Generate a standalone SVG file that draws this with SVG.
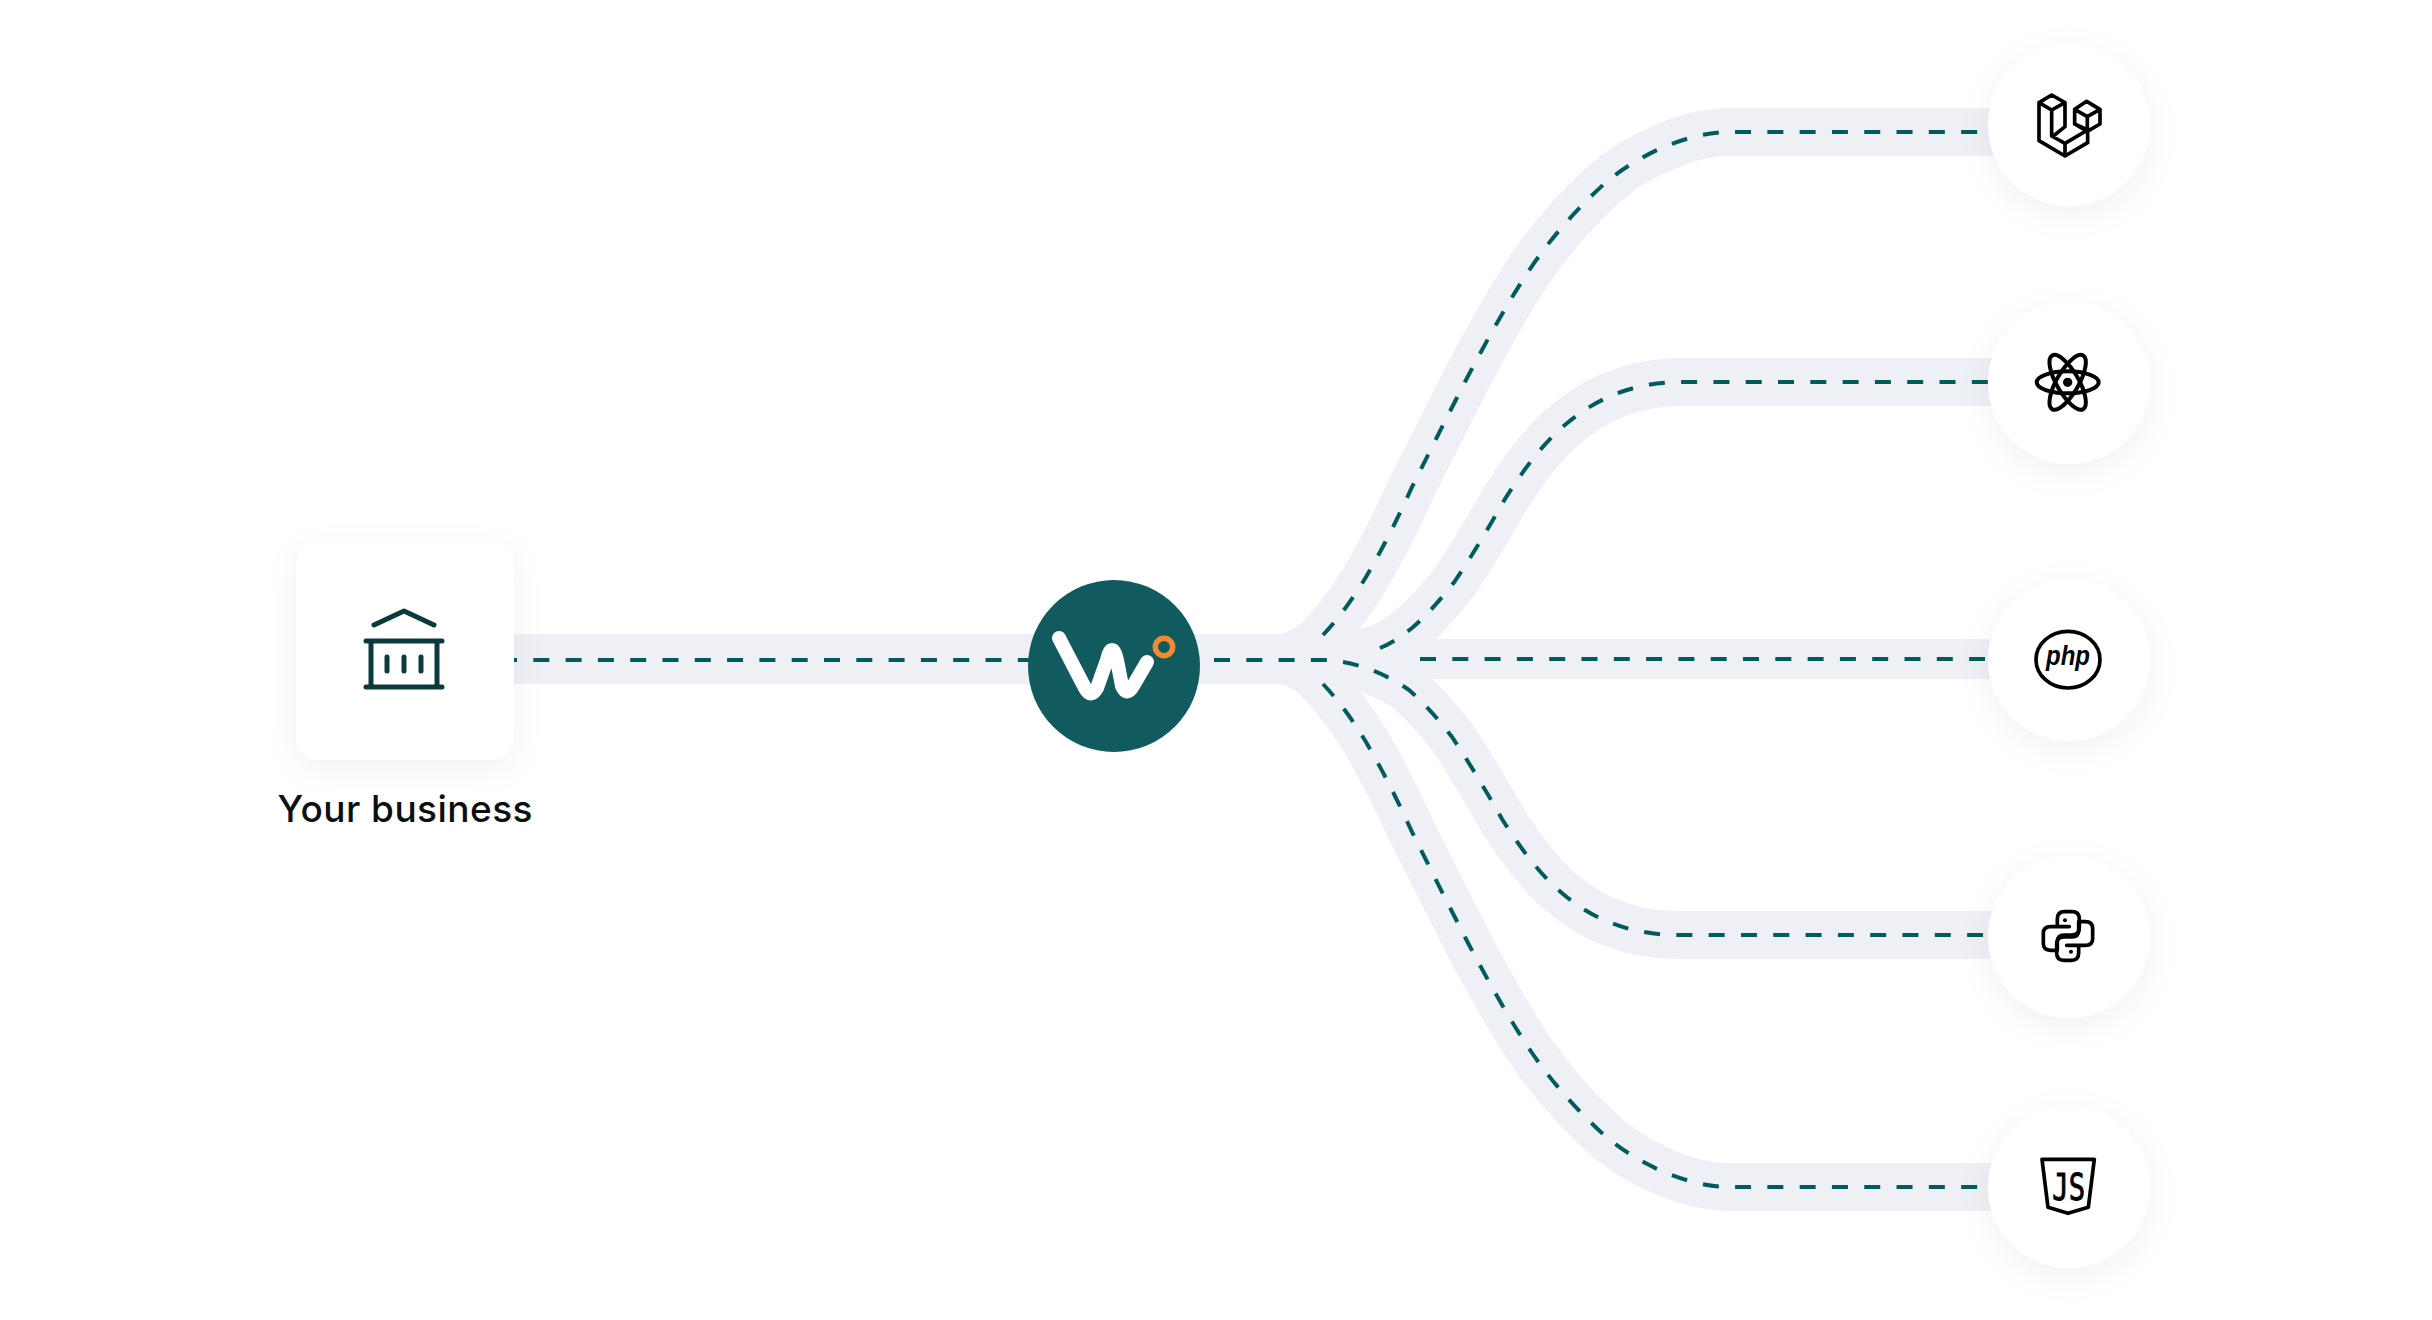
<svg xmlns="http://www.w3.org/2000/svg" width="2432" height="1320" viewBox="0 0 2432 1320">
<style>
.band{fill:none;stroke:#eff0f6;stroke-width:48}
.dash{fill:none;stroke:#005c5c;stroke-width:4;stroke-dasharray:16 16.3}
.card{fill:#fff;filter:url(#sh)}
.ic{fill:none;stroke:#000;stroke-width:11;stroke-linejoin:round;stroke-linecap:round}
.bk{fill:none;stroke:#0a3a3c;stroke-width:5;stroke-linecap:round;stroke-linejoin:round}
</style>
<defs>
<filter id="sh" x="-40%" y="-40%" width="180%" height="180%"><feDropShadow dx="0" dy="8" stdDeviation="16" flood-color="#1a2050" flood-opacity="0.05"/></filter>
</defs>
<rect width="2432" height="1320" fill="#fff"/>
<g id="connectors">
<path class="band" style="stroke-width:50" d="M500 659H1300"/>
<path class="band" d="M1270 659C1295 659 1310 648 1323 635C1340 617 1354 597 1366 577C1383 548 1398 518 1412 487C1430 451 1448 415 1467 378C1487 340 1508 302 1530 269C1553 235 1578 208 1603 185C1633 158 1685 132 1730 132L2000 132"/>
<path class="band" d="M1270 659C1310 659 1350 660 1380 648C1392 643 1402 636 1412 628C1428 614 1442 598 1455 581C1472 556 1489 527 1505 499C1522 472 1542 444 1566 424C1598 397 1635 382 1683 382L2000 382"/>
<path class="band" style="stroke-width:40" d="M1280 659H2000"/>
<path class="band" d="M1270 659C1310 659 1325 659 1343 662C1362 665 1388 675 1409 690C1425 704 1439 720 1452 737C1469 762 1486 791 1502 819C1519 846 1539 874 1563 894C1595 921 1632 935 1680 935L2000 935"/>
<path class="band" d="M1270 659C1295 659 1310 670 1323 684C1340 702 1354 722 1366 742C1383 771 1398 801 1412 832C1430 868 1448 904 1467 941C1487 979 1508 1017 1530 1050C1553 1084 1578 1111 1603 1134C1633 1161 1685 1187 1730 1187L2000 1187"/>
<path class="dash" d="M501 660H1040"/>
<path class="dash" d="M1214 660H1328"/>
<path class="dash" d="M1323 635C1340 617 1354 597 1366 577C1383 548 1398 518 1412 487C1430 451 1448 415 1467 378C1487 340 1508 302 1530 269C1553 235 1578 208 1603 185C1633 158 1685 132 1730 132L1990 132"/>
<path class="dash" d="M1380 648C1392 643 1402 636 1412 628C1428 614 1442 598 1455 581C1472 556 1489 527 1505 499C1522 472 1542 444 1566 424C1598 397 1635 382 1683 382L1990 382"/>
<path class="dash" d="M1420 659H1985"/>
<path class="dash" d="M1343 662C1362 665 1388 675 1409 690C1425 704 1439 720 1452 737C1469 762 1486 791 1502 819C1519 846 1539 874 1563 894C1595 921 1632 935 1680 935L1990 935"/>
<path class="dash" d="M1323 684C1340 702 1354 722 1366 742C1383 771 1398 801 1412 832C1430 868 1448 904 1467 941C1487 979 1508 1017 1530 1050C1553 1084 1578 1111 1603 1134C1633 1161 1685 1187 1730 1187L1990 1187"/>
</g>
<g id="business">
<rect class="card" x="296" y="542" width="218" height="218" rx="22"/>
<g class="bk">
<path d="M374 625L404 611L434 625M366 641H442M366 687H442M371 641V687M437 641V687M387 657V671M404 657V671M421 657V671"/>
</g>
<text x="405" y="822" text-anchor="middle" font-family="Inter, 'Liberation Sans', sans-serif" font-size="37" font-weight="500" fill="#0b0f10" textLength="255">Your business</text>
</g>
<g id="hub">
<circle cx="1114" cy="666" r="86" fill="#115a5d"/>
<path d="M1059 638L1085 688Q1091 699 1097 688L1107 660Q1112 640 1117 660L1122 686Q1127 697 1133 686L1147 662" fill="none" stroke="#fff" stroke-width="14" stroke-linecap="round" stroke-linejoin="round"/>
<circle cx="1164" cy="647" r="8.7" fill="none" stroke="#f18a30" stroke-width="5.5"/>
</g>
<g id="laravel">
<circle class="card" cx="2069" cy="125" r="81"/>
<g transform="translate(1980 30) scale(.3333)"><path class="ic" d="M177 218L215 195L255 218L215 240ZM177 218V332L255 378L323 338V300M215 240V318L255 340M255 218V290L220 318M255 340L323 300L284 282M255 340V378M320 214L360 238L322 260L284 238ZM360 238V282L322 304L284 282V238M322 260V304"/></g>
</g>
<g id="react">
<circle class="card" cx="2069" cy="383" r="81"/>
<g transform="translate(1980 290) scale(.3333)"><g class="ic" style="stroke-width:12"><ellipse cx="263" cy="277" rx="93" ry="33"/><ellipse cx="263" cy="277" rx="93" ry="33" transform="rotate(60 263 277)"/><ellipse cx="263" cy="277" rx="93" ry="33" transform="rotate(-60 263 277)"/></g><circle cx="263" cy="277" r="14"/></g>
</g>
<g id="php">
<circle class="card" cx="2069" cy="660" r="81"/>
<g transform="translate(1980 570) scale(.3333)"><ellipse class="ic" cx="264" cy="269" rx="96" ry="85"/><text x="264" y="285" text-anchor="middle" font-family="'Liberation Sans', sans-serif" font-size="84" font-style="italic" font-weight="700" fill="#000" textLength="132" lengthAdjust="spacingAndGlyphs">php</text></g>
</g>
<g id="python">
<circle class="card" cx="2069" cy="937" r="81"/>
<g transform="translate(1980 845) scale(.3333)"><g id="snake"><path class="ic" d="M232 245V222Q232 200 254 200H276Q298 200 298 222V250Q298 270 275 270H252Q232 270 232 290V316H212Q190 316 190 295V265Q190 245 212 245H268"/><circle cx="255" cy="226" r="6"/></g><g transform="rotate(180 264 273)"><path class="ic" d="M232 245V222Q232 200 254 200H276Q298 200 298 222V250Q298 270 275 270H252Q232 270 232 290V316H212Q190 316 190 295V265Q190 245 212 245H268"/><circle cx="255" cy="226" r="6"/></g></g>
</g>
<g id="js">
<circle class="card" cx="2069" cy="1187" r="81"/>
<g transform="translate(1980 1095) scale(.3333)"><path class="ic" d="M186 193H343L325 337L264 355L204 337Z"/><text x="266" y="315" text-anchor="middle" font-family="'DejaVu Sans Mono', monospace" font-size="112" fill="#000" stroke="#000" stroke-width="3" textLength="98" lengthAdjust="spacingAndGlyphs">JS</text></g>
</g>
</svg>
